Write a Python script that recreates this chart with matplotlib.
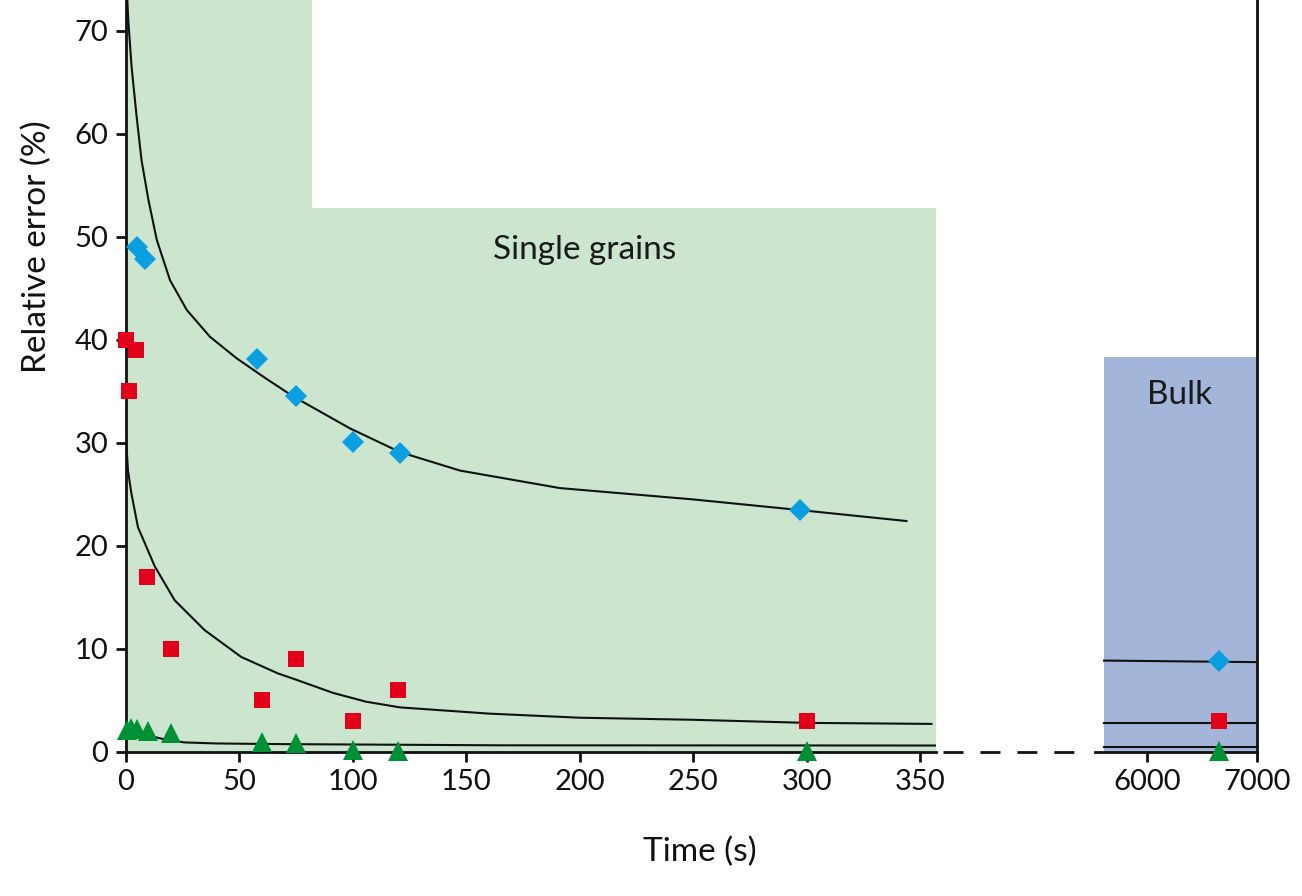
import numpy as np
import matplotlib
matplotlib.use('Agg')
import matplotlib.pyplot as plt
from matplotlib.lines import Line2D

plt.rcParams['font.family'] = ['Lato', 'DejaVu Sans']

# measured points (time in s, relative error in %)
blue_t = [5, 8.5, 58, 75, 100, 121, 297]
blue_err = [49.0, 47.8, 38.1, 34.5, 30.1, 29.0, 23.5]
red_t = [0, 4.5, 1.5, 9.5, 20, 60, 75, 100, 120, 300]
red_err = [40.0, 39.0, 35.0, 17.0, 10.0, 5.0, 9.0, 3.0, 6.0, 3.0]
green_t = [0.5, 2.5, 5, 10, 20, 60, 75, 100, 120, 300]
green_err = [2.1, 2.3, 2.2, 2.0, 1.8, 0.9, 0.8, 0.2, 0.1, 0.1]

# fitted curves
blue_fit_t = [0.6, 1.15, 2.6, 4.8, 7.0, 10, 13.7, 19.5, 26.9, 37.1, 48.9, 61.4, 73.8,
              98.8, 120.8, 147.3, 191.3, 250, 300, 344]
blue_fit_err = [73.5, 71.0, 66.5, 61.7, 57.4, 53.6, 49.7, 45.8, 42.9, 40.3, 38.2, 36.3, 34.5,
                31.4, 29.1, 27.3, 25.6, 24.5, 23.4, 22.4]
red_fit_t = [0.2, 0.3, 1.0, 2.5, 5.4, 12.8, 21.6, 34.8, 50.9, 67.1, 75, 91.5, 106, 121,
             160, 200, 250, 300, 355]
red_fit_err = [30.5, 29.9, 27.3, 25.1, 21.8, 18.0, 14.7, 11.8, 9.2, 7.6, 7.0, 5.7, 4.85, 4.3,
               3.7, 3.3, 3.1, 2.8, 2.7]
green_fit_t = [0.3, 5, 11.3, 18, 26, 40, 67, 165, 357]
green_fit_err = [2.4, 1.9, 1.5, 1.15, 0.9, 0.8, 0.74, 0.62, 0.6]

# bulk
bulk_t = [6655]
bulk_blue = [8.8]
bulk_red = [3.0]
bulk_green = [0.1]
bulk_line_t = [5609, 7000]
bulk_blue_line = [8.85, 8.7]
bulk_red_line = [2.75, 2.75]
bulk_green_line = [0.45, 0.45]

# shaded regions
grains_x = [0, 82, 82, 357]
grains_top = [74, 74, 52.8, 52.8]
bulk_x = [5609, 7000]
bulk_top = [38.3, 38.3]

c_blue = '#0b9ee0'
c_red = '#e2001a'
c_green = '#009036'

fig = plt.figure(figsize=(13.02, 8.96), dpi=100)
W, H = 1302, 896
y0 = (H - 751.7) / H
ax = fig.add_axes([125.7 / W, y0, (936 - 125.7) / W, 1 - y0])
ax2 = fig.add_axes([1095 / W, y0, (1257 - 1095) / W, 1 - y0])

ylim = (0, 73.0)

ax.fill_between(grains_x, 0, grains_top, color='#cce5cf', lw=0, zorder=0)
ax.plot(blue_fit_t, blue_fit_err, color='#111111', lw=1.5, zorder=2)
ax.plot(red_fit_t, red_fit_err, color='#111111', lw=1.5, zorder=2)
ax.plot(green_fit_t, green_fit_err, color='#111111', lw=1.5, zorder=2)
ax.plot(blue_t, blue_err, 'D', color=c_blue, ms=11, mew=0, zorder=3, clip_on=False)
ax.plot(red_t, red_err, 's', color=c_red, ms=12, mew=0, zorder=3, clip_on=False)
ax.plot(green_t, green_err, '^', color=c_green, ms=14, mew=0, zorder=3, clip_on=False)
ax.text(202, 48.7, 'Single grains', fontsize=24, ha='center', va='center', color='#1a1a1a')

ax2.fill_between(bulk_x, 0, bulk_top, color='#a3b5d9', lw=0, zorder=0)
ax2.plot(bulk_line_t, bulk_blue_line, color='#111111', lw=1.5, zorder=2)
ax2.plot(bulk_line_t, bulk_red_line, color='#111111', lw=1.5, zorder=2)
ax2.plot(bulk_line_t, bulk_green_line, color='#111111', lw=1.5, zorder=2)
ax2.plot(bulk_t, bulk_blue, 'D', color=c_blue, ms=11, mew=0, zorder=3, clip_on=False)
ax2.plot(bulk_t, bulk_red, 's', color=c_red, ms=12, mew=0, zorder=3, clip_on=False)
ax2.plot(bulk_t, bulk_green, '^', color=c_green, ms=14, mew=0, zorder=3, clip_on=False)
ax2.text(6300, 34.6, 'Bulk', fontsize=24, ha='center', va='center', color='#1a1a1a')

ax.set_xlim(0, 357)
ax.set_ylim(*ylim)
ax.set_xticks([0, 50, 100, 150, 200, 250, 300, 350])
ax.set_yticks([0, 10, 20, 30, 40, 50, 60, 70])
ax2.set_xlim(5527, 7000)
ax2.set_ylim(*ylim)
ax2.set_xticks([6000, 7000])
ax2.set_yticks([])

for a in (ax, ax2):
    a.patch.set_alpha(0)
    a.spines['top'].set_visible(False)
    for s in a.spines.values():
        s.set_linewidth(2)
        s.set_color('#111111')
    a.tick_params(direction='out', length=7.5, width=2, labelsize=21, pad=5, colors='#111111')
ax.spines['right'].set_visible(False)
ax2.spines['left'].set_visible(False)

ax.set_ylabel('Relative error (%)', fontsize=24, color='#111111')
ax.yaxis.set_label_coords(-0.091, 0.672)
fig.text(700 / W, 1 - 852 / H, 'Time (s)', fontsize=24, ha='center', va='center', color='#111111')

# dashed break in the time axis
fig.add_artist(Line2D([943 / W, 1077 / W], [y0, y0], color='#111111', lw=2,
                      linestyle=(0, (7.2, 6.1)), transform=fig.transFigure))

fig.savefig('out.png', dpi=100)
